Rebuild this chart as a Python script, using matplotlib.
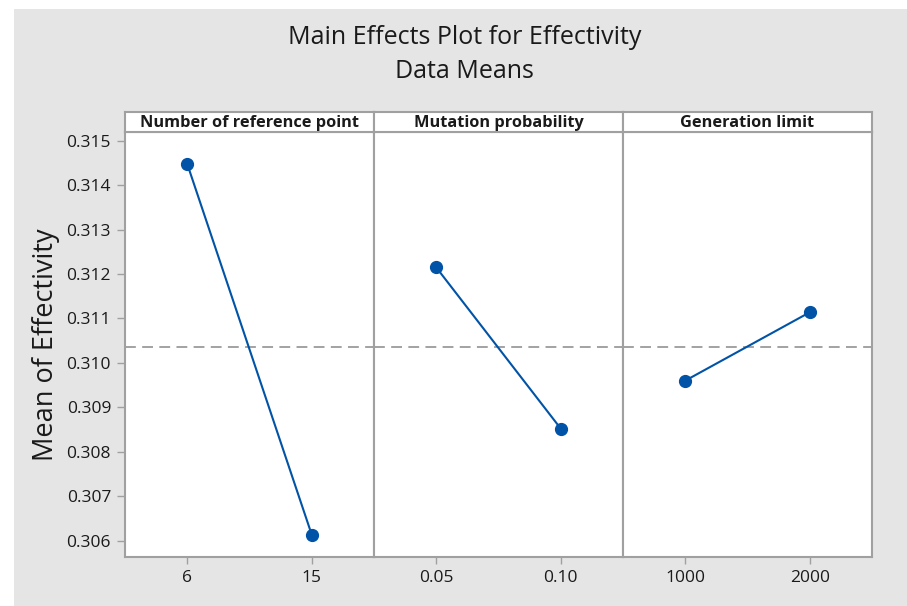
import matplotlib.pyplot as plt
from matplotlib.patches import Rectangle

# data
factors = ["Number of reference point", "Mutation probability", "Generation limit"]
levels = [["6", "15"], ["0.05", "0.10"], ["1000", "2000"]]
ref_point_means = [0.31448, 0.30613]
mutation_means = [0.31215, 0.30852]
generation_means = [0.30960, 0.31114]
grand_mean = 0.31035
y_ticks = [0.306, 0.307, 0.308, 0.309, 0.310, 0.311, 0.312, 0.313, 0.314, 0.315]

series = [ref_point_means, mutation_means, generation_means]

plt.rcParams["font.family"] = ["Open Sans", "DejaVu Sans"]

bg = "#e5e5e5"
frame = "#a0a0a0"
blue = "#0053a6"
text_col = "#1a1a1a"

fig = plt.figure(figsize=(9.07, 6.06), dpi=100, facecolor="white")
# gray panel behind everything (thin white strip on left and top)
fig.patches.append(Rectangle((14 / 907, 0), 1, 1 - 9 / 606, transform=fig.transFigure,
                             facecolor=bg, edgecolor="none", zorder=-10))

left, right = 125 / 907, 872 / 907
bottom, top = 1 - 556.5 / 606, 1 - 132 / 606
head_h = 19.5 / 606
w = (right - left) / 3

axes = []
for i in range(3):
    ax = fig.add_axes([left + i * w, bottom, w, top - bottom])
    axes.append(ax)
    x = list(range(len(levels[i])))
    ax.axhline(grand_mean, color="#9b9b9b", linestyle=(0, (6, 3.5)), linewidth=1.3, zorder=1)
    ax.plot(x, series[i], color=blue, linewidth=1.5, marker="o", markersize=8.5, zorder=3)
    ax.set_xlim(-0.5, 1.5)
    ax.set_ylim(0.30564, 0.3152)
    ax.set_xticks(x)
    ax.set_xticklabels(levels[i], fontsize=12.5, color=text_col)
    ax.set_facecolor("white")
    for s in ax.spines.values():
        s.set_color(frame)
        s.set_linewidth(1.5)
    ax.tick_params(axis="x", direction="out", length=5, width=1, color=frame, pad=5)
    if i == 0:
        ax.set_yticks(y_ticks)
        ax.set_yticklabels([f"{v:.3f}" for v in y_ticks], fontsize=12.5, color=text_col)
        ax.tick_params(axis="y", direction="out", length=6, width=1, color=frame, pad=4)
        ax.set_ylabel("Mean of Effectivity", fontsize=19.5, color=text_col, labelpad=5)
    else:
        ax.set_yticks([])

    # header strip with factor name
    hax = fig.add_axes([left + i * w, top, w, head_h])
    hax.set_xticks([])
    hax.set_yticks([])
    hax.set_facecolor("white")
    for s in hax.spines.values():
        s.set_color(frame)
        s.set_linewidth(1.5)
    hax.text(0.5, 0.45, factors[i], ha="center", va="center", fontsize=11.8,
             fontweight="bold", color=text_col, transform=hax.transAxes)

fig.text(0.512, 1 - 37 / 606, "Main Effects Plot for Effectivity", ha="center", va="center",
         fontsize=18, color=text_col)
fig.text(0.512, 1 - 71 / 606, "Data Means", ha="center", va="center",
         fontsize=18, color=text_col)

fig.savefig("out.png", dpi=100, facecolor=fig.get_facecolor())
